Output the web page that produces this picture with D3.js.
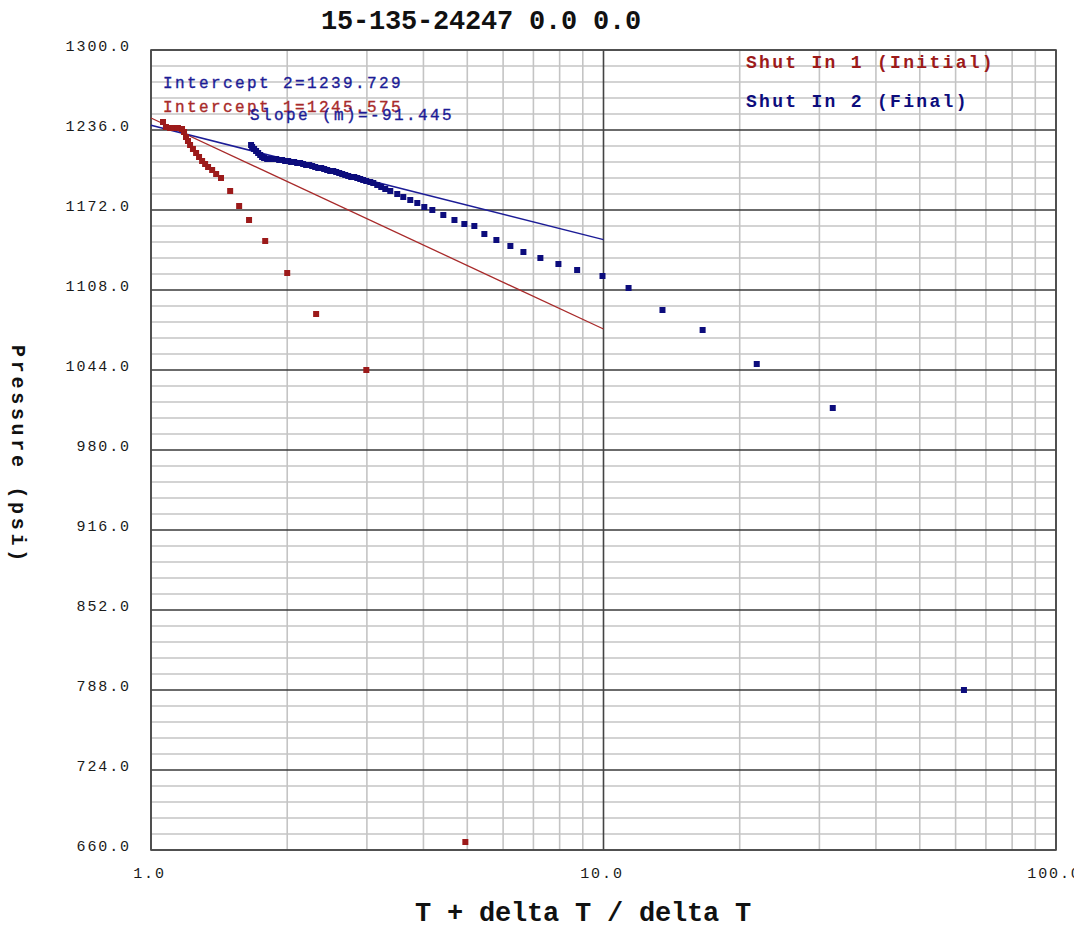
<!DOCTYPE html>
<html>
<head>
<meta charset="utf-8">
<script src="https://cdn.jsdelivr.net/npm/d3@7"></script>
<style>
  body { margin: 0; background: #fff; }
  svg text { font-family: "Courier New", "Liberation Mono", monospace; }
</style>
</head>
<body>
<svg id="chart" width="1074" height="928"></svg>
<script>
// ---- chart data ----
const titleText = "15-135-24247 0.0 0.0";
const xAxisTitle = "T + delta T / delta T";
const yAxisTitle = "Pressure (psi)";

const xTickValues = [1, 10, 100];
const xTickLabels = ["1.0", "10.0", "100.0"];
const yTickValues = [660, 724, 788, 852, 916, 980, 1044, 1108, 1172, 1236, 1300];

const seriesNames = ["Shut In 1 (Initial)", "Shut In 2 (Final)"];

// Shut In 1: Horner time ratio and pressure (psi)
const shutIn1X = [1.063, 1.079, 1.102, 1.124, 1.147, 1.171, 1.183, 1.195, 1.207, 1.220,
  1.238, 1.258, 1.277, 1.297, 1.317, 1.337, 1.365, 1.393, 1.428, 1.496,
  1.566, 1.647, 1.788, 2.0, 2.317, 2.991, 4.951];
const shutIn1P = [1242.4, 1238.4, 1237.6, 1237.6, 1237.6, 1236.8, 1234.4, 1230.4, 1227.2, 1224.0,
  1220.8, 1217.6, 1214.4, 1211.2, 1208.8, 1206.4, 1204.0, 1200.8, 1197.6, 1187.2,
  1175.2, 1164.0, 1147.2, 1121.6, 1088.8, 1044.0, 666.4];

// Shut In 2: Horner time ratio and pressure (psi)
const shutIn2X = [1.664, 1.673, 1.690, 1.707, 1.725, 1.743, 1.760, 1.778, 1.806, 1.834,
  1.862, 1.891, 1.920, 1.949, 1.979, 2.010, 2.040, 2.072, 2.104, 2.136,
  2.169, 2.202, 2.237, 2.271, 2.306, 2.342, 2.378, 2.414, 2.451, 2.489,
  2.528, 2.566, 2.606, 2.646, 2.687, 2.728, 2.770, 2.813, 2.857, 2.900,
  2.944, 2.990, 3.052, 3.099, 3.162, 3.227, 3.294, 3.379, 3.501, 3.610,
  3.741, 3.877, 4.018, 4.185, 4.426, 4.684, 4.926, 5.183, 5.454, 5.798,
  6.226, 6.653, 7.253, 7.950, 8.745, 9.949, 11.36, 13.50, 16.56, 21.81,
  32.11, 62.6];
const shutIn2P = [1224.0, 1222.4, 1220.8, 1219.2, 1217.6, 1216.0, 1214.4, 1213.6, 1212.8, 1212.8,
  1212.8, 1212.8, 1212.0, 1212.0, 1211.2, 1211.2, 1210.4, 1210.4, 1209.6, 1209.6,
  1208.8, 1208.0, 1208.0, 1207.2, 1206.4, 1205.6, 1205.6, 1204.8, 1204.0, 1203.2,
  1203.2, 1202.4, 1201.6, 1200.8, 1200.0, 1199.2, 1198.4, 1198.4, 1197.6, 1196.8,
  1196.0, 1195.2, 1194.4, 1193.6, 1192.0, 1190.4, 1188.8, 1187.2, 1184.8, 1182.4,
  1180.0, 1177.6, 1174.4, 1172.0, 1168.0, 1164.0, 1160.8, 1159.2, 1152.8, 1148.0,
  1143.2, 1138.4, 1133.6, 1128.8, 1124.0, 1119.2, 1109.6, 1092.0, 1076.0, 1048.8,
  1013.6, 788.0];

// Straight-line fits: P = intercept + slope * log10(x)
const intercept1 = 1245.575;
const slope1 = -168.8;
const intercept2 = 1239.729;
const slope2 = -91.445;
const fitRangeX = [1, 10];

// ---- layout ----
const plot = { left: 151, right: 1056, top: 50, bottom: 850 };
const red = "#9c1a1a";
const redLine = "#a82a2a";
const blue = "#0c0c7c";
const blueLine = "#1c1c96";

const svg = d3.select("#chart");

const x = d3.scaleLog().domain([1, 100]).range([plot.left, plot.right]);
const y = d3.scaleLinear().domain([660, 1300]).range([plot.bottom, plot.top]);

// ---- grid ----
const grid = svg.append("g");
const minorX = d3.range(2, 10).concat(d3.range(20, 100, 10));
grid.selectAll("line.vminor").data(minorX).join("line")
  .attr("x1", d => x(d)).attr("x2", d => x(d))
  .attr("y1", plot.top).attr("y2", plot.bottom)
  .attr("stroke", "#c4c4c4").attr("stroke-width", 1.6);

const minorY = [];
for (let i = 0; i < yTickValues.length - 1; i++) {
  const step = (yTickValues[i + 1] - yTickValues[i]) / 5;
  for (let k = 1; k < 5; k++) minorY.push(yTickValues[i] + k * step);
}
grid.selectAll("line.hminor").data(minorY).join("line")
  .attr("x1", plot.left).attr("x2", plot.right)
  .attr("y1", d => y(d)).attr("y2", d => y(d))
  .attr("stroke", "#c4c4c4").attr("stroke-width", 1.6);

grid.selectAll("line.hmajor").data(yTickValues).join("line")
  .attr("x1", plot.left).attr("x2", plot.right)
  .attr("y1", d => y(d)).attr("y2", d => y(d))
  .attr("stroke", "#3a3a3a").attr("stroke-width", 1.5);

grid.selectAll("line.vmajor").data(xTickValues).join("line")
  .attr("x1", d => x(d)).attr("x2", d => x(d))
  .attr("y1", plot.top).attr("y2", plot.bottom)
  .attr("stroke", "#444").attr("stroke-width", 1.6);

grid.append("rect")
  .attr("x", plot.left).attr("y", plot.top)
  .attr("width", plot.right - plot.left).attr("height", plot.bottom - plot.top)
  .attr("fill", "none").attr("stroke", "#4a4a4a").attr("stroke-width", 1.6);

// ---- axes (labels only) ----
const yAxis = svg.append("g")
  .attr("transform", `translate(${plot.left},0)`)
  .call(d3.axisLeft(y).tickValues(yTickValues).tickFormat(d => d.toFixed(1)).tickSize(0).tickPadding(20));
yAxis.select(".domain").remove();
yAxis.selectAll("text")
  .attr("dy", null).attr("y", 0)
  .attr("font-family", "'Courier New', 'Liberation Mono', monospace")
  .attr("font-size", 15).attr("letter-spacing", 1.9)
  .attr("fill", "#1a1a1a");

const xAxis = svg.append("g")
  .attr("transform", `translate(0,${plot.bottom})`)
  .call(d3.axisBottom(x).tickValues(xTickValues).tickFormat((d, i) => xTickLabels[i]).tickSize(0));
xAxis.select(".domain").remove();
xAxis.selectAll("text")
  .attr("dy", null).attr("y", 28).attr("x", -2)
  .attr("font-family", "'Courier New', 'Liberation Mono', monospace")
  .attr("font-size", 15).attr("letter-spacing", 1.9)
  .attr("fill", "#1a1a1a");

// ---- fit lines ----
const fitLine = d3.line().x(d => x(d[0])).y(d => y(d[1]));
svg.append("path")
  .attr("d", fitLine(fitRangeX.map(v => [v, intercept1 + slope1 * Math.log10(v)])))
  .attr("fill", "none").attr("stroke", redLine).attr("stroke-width", 1.3);
svg.append("path")
  .attr("d", fitLine(fitRangeX.map(v => [v, intercept2 + slope2 * Math.log10(v)])))
  .attr("fill", "none").attr("stroke", blueLine).attr("stroke-width", 1.5);

// ---- markers ----
const ms = 6;
svg.append("g").selectAll("rect").data(d3.zip(shutIn1X, shutIn1P)).join("rect")
  .attr("x", d => x(d[0]) - ms / 2).attr("y", d => y(d[1]) - ms / 2)
  .attr("width", ms).attr("height", ms).attr("fill", red);
svg.append("g").selectAll("rect").data(d3.zip(shutIn2X, shutIn2P)).join("rect")
  .attr("x", d => x(d[0]) - ms / 2).attr("y", d => y(d[1]) - ms / 2)
  .attr("width", ms).attr("height", ms).attr("fill", blue);

// ---- annotations ----
const ann = svg.append("g")
  .attr("font-family", "'Courier New', 'Liberation Mono', monospace")
  .attr("font-size", 16).attr("letter-spacing", 2.4)
  .attr("stroke-width", 0.35);
ann.append("text").attr("x", 163).attr("y", 88).attr("fill", blueLine).attr("stroke", blueLine)
  .text(`Intercept 2=${intercept2.toFixed(3)}`);
ann.append("text").attr("x", 163).attr("y", 112).attr("fill", redLine).attr("stroke", redLine)
  .text(`Intercept 1=${intercept1.toFixed(3)}`);
ann.append("text").attr("x", 250).attr("y", 120).attr("fill", blueLine).attr("stroke", blueLine)
  .text(`Slope (m)=${slope2.toFixed(3)}`);

// ---- legend ----
const legend = svg.append("g")
  .attr("font-family", "'Courier New', 'Liberation Mono', monospace")
  .attr("font-size", 18).attr("font-weight", "bold").attr("letter-spacing", 2.3);
legend.append("text").attr("x", 746).attr("y", 68).attr("fill", red).text(seriesNames[0]);
legend.append("text").attr("x", 746).attr("y", 107).attr("fill", blue).text(seriesNames[1]);

// ---- titles ----
svg.append("text")
  .attr("x", 481).attr("y", 29).attr("text-anchor", "middle")
  .attr("font-family", "'Liberation Mono', monospace")
  .attr("font-size", 27).attr("font-weight", "bold").attr("letter-spacing", -0.2)
  .attr("fill", "#111").text(titleText);

svg.append("text")
  .attr("x", 583).attr("y", 921).attr("text-anchor", "middle")
  .attr("font-family", "'Liberation Mono', monospace")
  .attr("font-size", 27).attr("font-weight", "bold").attr("letter-spacing", -0.2)
  .attr("fill", "#111").text(xAxisTitle);

svg.append("text")
  .attr("transform", "translate(12,455) rotate(90)")
  .attr("text-anchor", "middle")
  .attr("font-family", "'Courier New', 'Liberation Mono', monospace")
  .attr("font-size", 20).attr("font-weight", "bold").attr("letter-spacing", 3.7)
  .attr("fill", "#111").text(yAxisTitle);
</script>
</body>
</html>
